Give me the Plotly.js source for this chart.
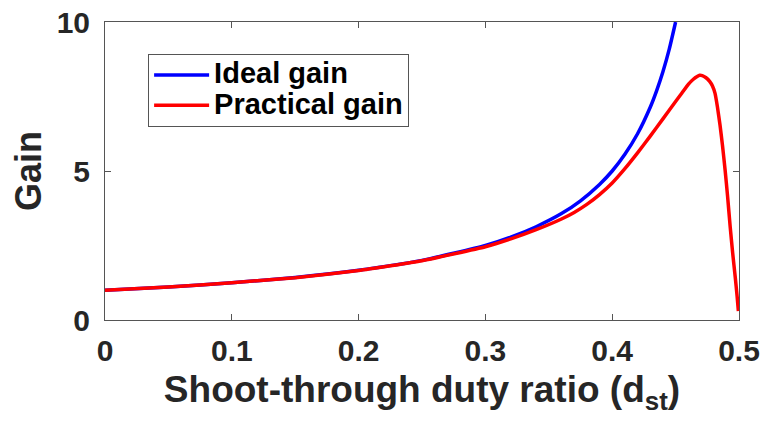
<!DOCTYPE html>
<html>
<head>
<meta charset="utf-8">
<script src="https://cdn.plot.ly/plotly-3.0.1.min.js"></script>
<style>html,body{margin:0;padding:0;background:#fff;}#chart{width:767px;height:424px;}</style>
</head>
<body>
<div id="chart"></div>
<script>
// Ideal gain series
const idealD = [0, 0.05, 0.1, 0.15, 0.2, 0.25, 0.3, 0.32, 0.34, 0.36, 0.375, 0.39, 0.4, 0.41, 0.42, 0.43, 0.435, 0.44, 0.445, 0.45];
const idealG = [1.0, 1.11, 1.25, 1.43, 1.67, 2.0, 2.5, 2.78, 3.13, 3.57, 4.0, 4.55, 5.0, 5.56, 6.25, 7.14, 7.69, 8.33, 9.09, 10.0];
// Practical gain series
const practD = [0, 0.05, 0.1, 0.15, 0.2, 0.25, 0.3, 0.32, 0.34, 0.36, 0.37, 0.38, 0.39, 0.4, 0.41, 0.42, 0.43, 0.44, 0.45, 0.455, 0.46, 0.464, 0.467, 0.469, 0.471, 0.474, 0.477, 0.479, 0.481, 0.483, 0.485, 0.487, 0.489, 0.491, 0.493, 0.495, 0.497, 0.4985, 0.4995];
const practG = [1.0, 1.11, 1.25, 1.42, 1.66, 1.99, 2.46, 2.72, 3.03, 3.39, 3.61, 3.88, 4.21, 4.6, 5.08, 5.61, 6.17, 6.75, 7.33, 7.62, 7.91, 8.08, 8.17, 8.21, 8.2, 8.13, 8.0, 7.86, 7.62, 7.15, 6.55, 5.85, 5.05, 4.15, 3.15, 2.25, 1.45, 0.8, 0.3];
const seriesNames = ["Ideal gain", "Practical gain"];
const xTicks = [0, 0.1, 0.2, 0.3, 0.4, 0.5];
const yTicks = [0, 5, 10];

const fontFam = "Liberation Sans, Arial, sans-serif";
const axisCol = "#262626";
const legendName = s => '<span style="font-size:29px">' + s + '</span>';

const traces = [
  {x: idealD, y: idealG, name: legendName(seriesNames[0]), mode: "lines", line: {color: "#0000ff", width: 3.5, shape: "spline", smoothing: 0.5}},
  {x: practD, y: practG, name: legendName(seriesNames[1]), mode: "lines", line: {color: "#ff0000", width: 3.5, shape: "spline", smoothing: 0.4}}
];

const axisCommon = {
  showline: true, mirror: "ticks", linecolor: "#555", linewidth: 1,
  ticks: "inside", ticklen: 6, tickcolor: "#555", tickwidth: 1,
  showgrid: false, zeroline: false,
  tickfont: {family: fontFam, size: 30, color: axisCol, weight: "bold"}
};

const layout = {
  width: 767, height: 424,
  margin: {l: 105, r: 28, t: 22, b: 104},
  paper_bgcolor: "#fff", plot_bgcolor: "#fff",
  showlegend: true,
  legend: {
    x: 0.068, y: 0.893, xanchor: "left", yanchor: "top",
    bgcolor: "#fff", bordercolor: "#555", borderwidth: 1,
    font: {family: fontFam, size: 21, color: "#000", weight: "bold"},
    itemwidth: 55, tracegroupgap: 0
  },
  xaxis: Object.assign({}, axisCommon, {
    range: [0, 0.5], tickvals: xTicks, ticktext: xTicks.map(String),
    ticklabelstandoff: 4,
    title: {text: "Shoot-through duty ratio (d<sub>st</sub>)", font: {family: fontFam, size: 37, color: axisCol, weight: "bold"}, standoff: 10}
  }),
  yaxis: Object.assign({}, axisCommon, {
    range: [0, 10], tickvals: yTicks, ticktext: yTicks.map(String),
    ticklabelstandoff: 8,
    title: {text: "Gain", font: {family: fontFam, size: 36, color: axisCol, weight: "bold"}, standoff: 4}
  })
};

Plotly.newPlot("chart", traces, layout, {displayModeBar: false, staticPlot: true});
</script>
</body>
</html>
